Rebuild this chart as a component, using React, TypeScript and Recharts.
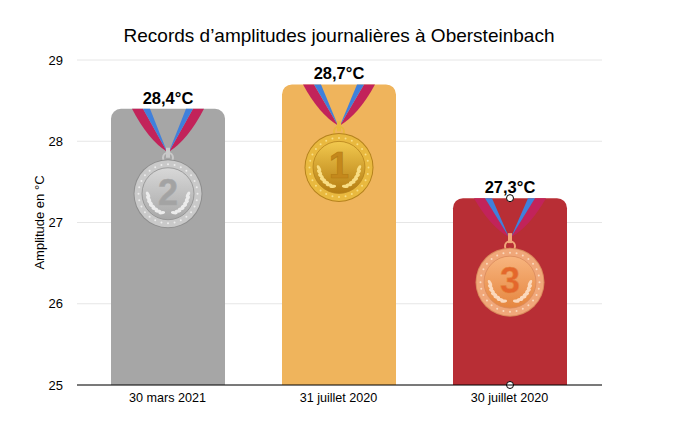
import React from 'react';
import { BarChart, Bar, XAxis, YAxis, CartesianGrid, LabelList, Rectangle } from 'recharts';

const categories = ['30 mars 2021', '31 juillet 2020', '30 juillet 2020'];
const amplitudes = [28.4, 28.7, 27.3];
const ranks = [2, 1, 3];
const barColors = ['#a6a6a6', '#efb45c', '#b82e35'];
const yTicks = [25, 26, 27, 28, 29];

const medalThemes = {
  1: { edge: '#b5821c', rim: '#e9b93f', light: '#f2c94f', dark: '#b47c12', digit: '#c4881c', leaf: '#f8dd84', drop: 41, offset: 83 },
  2: { edge: '#8e8e8e', rim: '#c9c9c9', light: '#d8d8d8', dark: '#a8a8a8', digit: '#a3a3a3', leaf: '#ececec', drop: 43, offset: 85 },
  3: { edge: '#d98a5c', rim: '#f0a779', light: '#f8b57f', dark: '#e5863f', digit: '#e4672c', leaf: '#fbd9bd', drop: 39, offset: 84 },
};

const data = categories.map((name, i) => ({ name, amplitude: amplitudes[i], rank: ranks[i], color: barColors[i] }));

const Medal = ({ cx, top, rank }: { cx: number; top: number; rank: number }) => {
  const t = medalThemes[rank as 1 | 2 | 3];
  const drop = t.drop;
  const cy = top + t.offset;
  const leaves = [0, 1, 2, 3, 4, 5, 6];
  const studs = Array.from({ length: 28 }, (_, i) => i);
  return (
    <g>
      {[-1, 1].map((s) => (
        <g key={s}>
          <path d={`M${cx + s * 36} ${top} Q${cx + s * 20} ${top + drop * 0.72} ${cx + s} ${top + drop} L${cx + s * 25} ${top} Z`} fill="#c2235a" />
          <path d={`M${cx + s * 25} ${top} L${cx + s} ${top + drop} L${cx + s * 18} ${top} Z`} fill="#3f80dc" />
        </g>
      ))}
      <rect x={cx - 2} y={top + drop - 4} width={4} height={10} fill={t.rim} />
      <circle cx={cx} cy={cy - 36} r={5} fill="none" stroke={t.rim} strokeWidth={2} />
      <circle cx={cx} cy={cy} r={34.5} fill={t.edge} />
      <circle cx={cx} cy={cy} r={33.5} fill={t.rim} />
      {studs.map((i) => {
        const a = (i / 28) * 2 * Math.PI;
        return <circle key={i} cx={cx + 29.5 * Math.cos(a)} cy={cy + 29.5 * Math.sin(a)} r={1} fill={t.leaf} />;
      })}
      <circle cx={cx} cy={cy} r={26} fill={`url(#face${rank})`} stroke={t.edge} strokeWidth={0.8} />
      {[-1, 1].map((s) =>
        leaves.map((i) => {
          const a = 0.05 + i * 0.2;
          const lx = cx + s * 20 * Math.cos(a);
          const ly = cy + 20 * Math.sin(a);
          return <ellipse key={`${s}-${i}`} cx={lx} cy={ly} rx={1.6} ry={3.4} fill={t.leaf} transform={`rotate(${s * (a * 57 + 25)} ${lx} ${ly})`} />;
        }),
      )}
      <text x={cx} y={cy + 11} textAnchor="middle" fontFamily="'Liberation Sans', sans-serif" fontWeight="bold" fontSize={36} fill={t.digit} stroke={t.dark} strokeWidth={0.6}>
        {rank}
      </text>
    </g>
  );
};

const MedalBar = (props: any) => {
  const { x, y, width, height, payload } = props;
  const cx = x + width / 2;
  return (
    <g>
      <Rectangle x={x} y={y} width={width} height={height} radius={[10, 10, 0, 0]} fill={payload.color} />
      <Medal cx={cx} top={y} rank={payload.rank} />
      {payload.rank === 3 && (
        <g>
          <circle cx={cx} cy={y} r={3.5} fill="#fff" stroke="#000" />
          <circle cx={cx} cy={y + height} r={3.5} fill="#fff" stroke="#000" />
        </g>
      )}
    </g>
  );
};

const YLabel = ({ viewBox }: any) => {
  const lx = viewBox.x + 14;
  const ly = viewBox.y + viewBox.height / 2;
  return (
    <text x={lx} y={ly} dy="0.35em" textAnchor="middle" fontSize={13} fill="#000" transform={`rotate(-90 ${lx} ${ly})`}>
      Amplitude en °C
    </text>
  );
};

const App = () => (
  <div style={{ position: 'absolute', left: 0, top: 0, width: 690, height: 430, background: '#fff', fontFamily: "'Liberation Sans', sans-serif" }}>
    <div style={{ position: 'absolute', top: 25, width: 678, textAlign: 'center', fontSize: 19, color: '#000' }}>
      Records d’amplitudes journalières à Obersteinbach
    </div>
    <BarChart width={690} height={430} data={data} margin={{ top: 60, right: 88, bottom: 15, left: 25 }}>
      <defs>
        {ranks.map((r) => {
          const t = medalThemes[r as 1 | 2 | 3];
          return (
            <linearGradient key={r} id={`face${r}`} x1="0" y1="0" x2="0" y2="1">
              <stop offset="0%" stopColor={t.light} />
              <stop offset="100%" stopColor={t.dark} />
            </linearGradient>
          );
        })}
      </defs>
      <CartesianGrid vertical={false} stroke="#e6e6e6" />
      <XAxis
        dataKey="name"
        axisLine={{ stroke: '#000', strokeWidth: 1 }}
        tickLine={false}
        padding={{ left: 5, right: 7 }}
        tick={{ fill: '#000', fontSize: 12.6 }}
        tickMargin={2}
        interval={0}
      />
      <YAxis
        domain={[25, 29]}
        ticks={yTicks}
        width={52}
        axisLine={false}
        tickLine={false}
        tick={{ fill: '#000', fontSize: 13 }}
        tickMargin={8}
        label={<YLabel />}
      />
      <Bar dataKey="amplitude" barSize={114} shape={MedalBar} isAnimationActive={false}>
        <LabelList
          dataKey="amplitude"
          position="top"
          offset={5}
          formatter={(v: any) => `${String(v).replace('.', ',')}°C`}
          style={{ fill: '#000', fontSize: 16.5, fontWeight: 'bold' }}
        />
      </Bar>
    </BarChart>
  </div>
);

export default App;
